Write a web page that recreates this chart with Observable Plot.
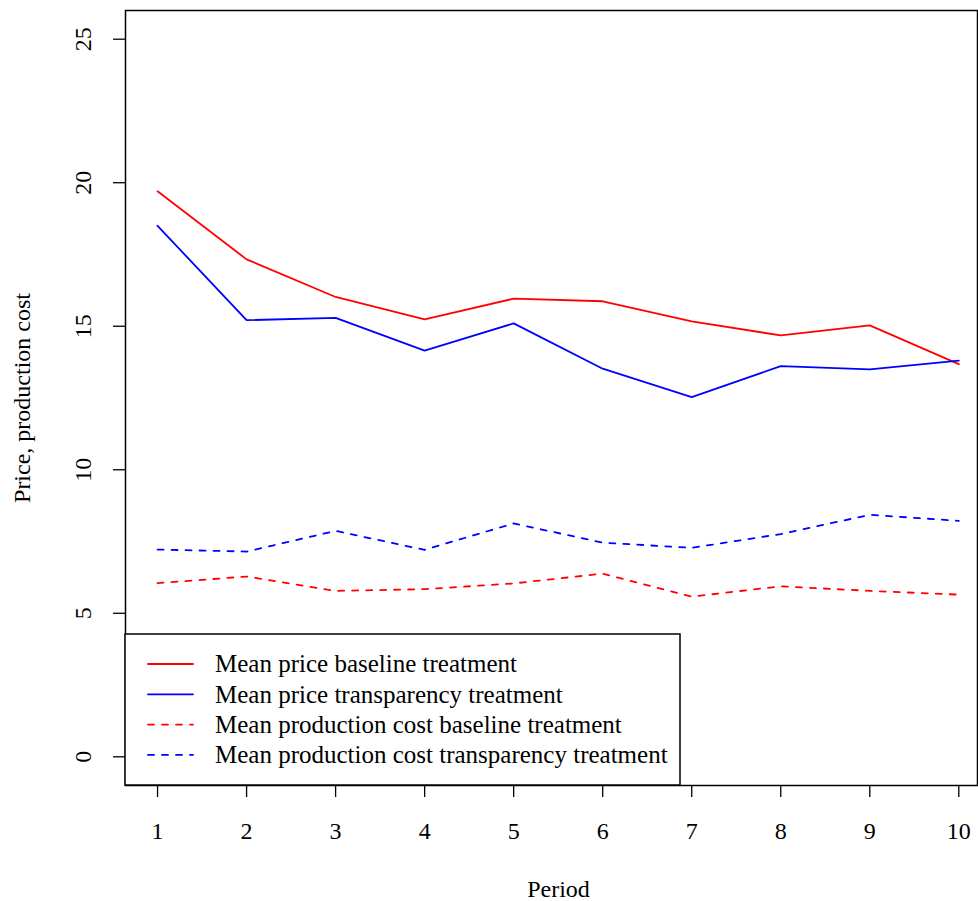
<!DOCTYPE html>
<html>
<head>
<meta charset="utf-8">
<script src="https://cdn.jsdelivr.net/npm/d3@7"></script>
<script src="https://cdn.jsdelivr.net/npm/@observablehq/plot@0.6"></script>
<style>
  html, body { margin: 0; padding: 0; background: white; overflow: hidden; }
  svg { display: block; }
</style>
</head>
<body>
<div id="chart"></div>
<script>
const periods = [1, 2, 3, 4, 5, 6, 7, 8, 9, 10];
const priceBaseline     = [19.70, 17.33, 16.02, 15.24, 15.96, 15.87, 15.17, 14.68, 15.03, 13.68];
const priceTransparency = [18.50, 15.21, 15.29, 14.15, 15.10, 13.52, 12.53, 13.61, 13.50, 13.80];
const costBaseline      = [6.05, 6.28, 5.78, 5.84, 6.04, 6.38, 5.58, 5.94, 5.78, 5.65];
const costTransparency  = [7.22, 7.15, 7.87, 7.21, 8.13, 7.46, 7.28, 7.76, 8.43, 8.22];
const yTicks = [0, 5, 10, 15, 20, 25];
const seriesNames = [
  "Mean price baseline treatment",
  "Mean price transparency treatment",
  "Mean production cost baseline treatment",
  "Mean production cost transparency treatment"
];
const seriesValues = [priceBaseline, priceTransparency, costBaseline, costTransparency];
const seriesColors = ["#ff0000", "#0000ff", "#ff0000", "#0000ff"];
const seriesDash = [null, null, "6,8", "6,8"];

const xDomain = [0.64, 10.21];
const yDomain = [-1, 26];
const font = "'Liberation Serif', 'Times New Roman', serif";

const lineMarks = seriesValues.map((vals, i) =>
  Plot.line(periods.map((p, j) => ({period: p, value: vals[j]})), {
    x: "period", y: "value",
    stroke: seriesColors[i], strokeWidth: 1.8,
    strokeDasharray: seriesDash[i] || undefined,
    strokeLinecap: "round", strokeLinejoin: "round"
  })
);

const plot = Plot.plot({
  width: 978,
  height: 901,
  marginLeft: 125,
  marginRight: 1,
  marginTop: 10,
  marginBottom: 116,
  x: {domain: xDomain},
  y: {domain: yDomain},
  style: {fontFamily: font, fontSize: "24px", background: "white", color: "black"},
  marks: [
    Plot.axisX({ticks: periods, tickSize: 12, tickFormat: () => "", label: null, strokeWidth: 1.3}),
    Plot.axisY({ticks: yTicks, tickSize: 12, tickFormat: () => "", label: null, strokeWidth: 1.3}),
    Plot.text(periods, {x: d => d, frameAnchor: "bottom", dy: 46, text: d => String(d), lineAnchor: "middle", fontSize: 24, fill: "black"}),
    Plot.text(yTicks, {y: d => d, frameAnchor: "left", dx: -42, rotate: -90, text: d => String(d), textAnchor: "middle", lineAnchor: "middle", fontSize: 24, fill: "black"}),
    Plot.text(["Price, production cost"], {frameAnchor: "left", dx: -103, rotate: -90, text: d => d, textAnchor: "middle", lineAnchor: "middle", fontSize: 24, fill: "black"}),
    Plot.text(["Period"], {frameAnchor: "bottom", dx: 7, dy: 104, text: d => d, textAnchor: "middle", lineAnchor: "middle", fontSize: 24, fill: "black"}),
    ...lineMarks,
    Plot.frame({stroke: "black", strokeWidth: 1.5})
  ]
});

document.getElementById("chart").appendChild(plot);

// Legend (bottom-left inside the plot box, like R's legend("bottomleft"))
const sx = plot.scale("x"), sy = plot.scale("y");
const left = sx.apply(xDomain[0]);
const bottom = sy.apply(yDomain[0]);
const boxW = 555, boxH = 151, rowH = 30.3;
const svg = d3.select(plot);
const g = svg.append("g").attr("transform", `translate(${left},${bottom - boxH})`)
  .attr("text-anchor", "start");
g.append("rect").attr("x", 0).attr("y", 0).attr("width", boxW).attr("height", boxH)
  .attr("fill", "white").attr("stroke", "black").attr("stroke-width", 1.5);
seriesNames.forEach((name, i) => {
  const cy = 30 + i * rowH;
  g.append("line").attr("x1", 23).attr("x2", 68).attr("y1", cy).attr("y2", cy)
    .attr("stroke", seriesColors[i]).attr("stroke-width", 1.8)
    .attr("stroke-dasharray", seriesDash[i])
    .attr("stroke-linecap", "round");
  g.append("text").attr("x", 90).attr("y", cy).attr("dy", "0.33em")
    .attr("text-anchor", "start")
    .attr("font-family", font).attr("font-size", 25).attr("fill", "black")
    .text(name);
});
</script>
</body>
</html>
